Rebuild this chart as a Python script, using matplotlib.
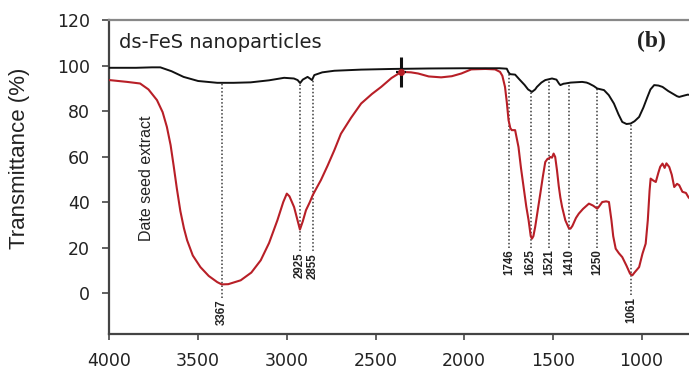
import matplotlib
matplotlib.use("Agg")
import matplotlib.pyplot as plt

# FTIR spectrum of ds-FeS nanoparticles (black)
fes_wn = [4000, 3850, 3760, 3713, 3650, 3582, 3500, 3392, 3300, 3204, 3100, 3015,
          2960, 2939, 2925, 2910, 2883, 2870, 2858, 2845, 2800, 2732, 2581, 2400,
          2200, 2000, 1800, 1760, 1750, 1741, 1713, 1690, 1660, 1640, 1618, 1600,
          1590, 1565, 1543, 1505, 1480, 1465, 1458, 1440, 1430, 1400, 1335, 1310,
          1297, 1270, 1250, 1212, 1185, 1156, 1130, 1109, 1085, 1062, 1040, 1014,
          990, 967, 950, 929, 905, 882, 850, 826, 800, 788, 760, 740, 718]
fes_t = [99.0, 99.0, 99.2, 99.2, 97.5, 95.0, 93.2, 92.4, 92.4, 92.6, 93.5, 94.6,
         94.3, 93.6, 92.3, 93.8, 95.0, 94.3, 93.6, 95.8, 97.0, 97.7, 98.2, 98.5,
         98.7, 98.8, 98.8, 98.6, 97.0, 96.2, 96.0, 94.0, 91.5, 89.5, 88.4, 89.5,
         90.6, 92.5, 93.6, 94.3, 93.8, 92.0, 91.4, 92.0, 92.1, 92.5, 92.8, 92.5,
         92.1, 91.0, 89.9, 89.2, 87.0, 83.3, 78.5, 75.2, 74.3, 74.5, 75.5, 77.4,
         81.5, 86.2, 89.5, 91.4, 91.2, 90.6, 88.8, 87.7, 86.5, 86.2, 86.8, 87.2, 87.0]

# FTIR spectrum of date seed extract (red)
ext_wn = [4000, 3900, 3827, 3780, 3732, 3700, 3676, 3655, 3638, 3620, 3600, 3580,
          3562, 3530, 3487, 3440, 3392, 3367, 3330, 3260, 3200, 3147, 3100, 3053,
          3020, 3000, 2985, 2959, 2940, 2926, 2910, 2892, 2870, 2854, 2830, 2808,
          2770, 2732, 2695, 2638, 2581, 2520, 2468, 2410, 2355, 2300, 2260, 2200,
          2130, 2070, 2016, 1960, 1880, 1826, 1798, 1785, 1770, 1760, 1750, 1740,
          1732, 1713, 1705, 1694, 1680, 1665, 1650, 1637, 1625, 1618, 1610, 1600,
          1585, 1571, 1557, 1543, 1530, 1521, 1515, 1505, 1496, 1487, 1477, 1467,
          1458, 1448, 1430, 1410, 1401, 1390, 1370, 1354, 1330, 1297, 1275, 1250,
          1240, 1222, 1200, 1184, 1170, 1160, 1146, 1128, 1109, 1085, 1065, 1052,
          1040, 1014, 995, 977, 965, 955, 949, 935, 920, 905, 895, 882, 870, 860,
          844, 830, 816, 800, 788, 770, 750, 735, 718]
ext_t = [93.6, 92.8, 92.1, 89.5, 84.8, 79.5, 73.0, 65.0, 56.0, 46.0, 36.0, 28.5,
         23.2, 16.5, 11.4, 7.5, 4.8, 3.8, 3.9, 5.6, 9.0, 14.4, 22.0, 32.0,
         40.0, 43.7, 42.5, 37.8, 32.0, 27.9, 31.5, 36.4, 40.0, 43.0, 46.5, 49.6,
         56.0, 62.8, 70.0, 77.0, 83.3, 87.5, 90.6, 94.5, 97.2, 97.0, 96.5, 95.2,
         94.8, 95.3, 96.5, 98.3, 98.5, 98.3, 97.2, 95.5, 90.6, 84.0, 76.0, 72.5,
         71.6, 71.6, 68.5, 64.2, 55.0, 46.6, 38.0, 32.0, 25.0, 23.9, 25.0, 29.0,
         36.5, 43.7, 51.0, 57.6, 59.0, 59.2, 59.8, 59.5, 61.3, 59.8, 54.0, 47.0,
         42.0, 37.8, 32.0, 28.5, 28.3, 29.5, 33.0, 34.9, 37.0, 39.3, 38.5, 37.1,
         38.0, 40.0, 40.3, 40.0, 32.0, 25.0, 19.5, 17.5, 15.8, 12.0, 8.5, 7.8,
         9.0, 11.4, 17.3, 21.7, 32.0, 45.0, 50.3, 49.5, 48.8, 53.0, 55.5, 56.9, 55.0, 57.0,
         55.4, 52.0, 46.6, 48.0, 47.4, 44.5, 44.0, 42.0, 40.8]

# peak markers
peak_labels = ["3367", "2925", "2855", "1746", "1625", "1521", "1410", "1250", "1061"]
peak_wn = [3367, 2925, 2855, 1746, 1625, 1521, 1410, 1250, 1061]
peak_top = [92.4, 92.3, 93.6, 96.2, 88.4, 93.5, 92.3, 89.9, 74.5]
peak_bottom = [-2.0, 18.5, 18.5, 20.0, 20.0, 20.0, 20.0, 20.0, -1.0]

cross_wn = [2355]
cross_t = [97.2]

fig = plt.figure(figsize=(6.89, 3.70), dpi=100)
ax = fig.add_axes([0.1588, 0.0973, 0.845, 0.8486])

for wn, top, bot, lab in zip(peak_wn, peak_top, peak_bottom, peak_labels):
    ax.plot([wn, wn], [bot, top], color="#3a3a3a", lw=1.1, linestyle=(0, (1, 1.4)), zorder=1)
    ax.text(wn, bot - 0.8, lab, rotation=90, ha="center", va="top", fontsize=8.3,
            fontweight="bold", family="Liberation Sans", color="#222222")

ax.plot(ext_wn, ext_t, color="#b81f27", lw=1.5, zorder=3)
ax.plot(fes_wn, fes_t, color="#111111", lw=1.4, zorder=4)

ax.plot(cross_wn, cross_t, "o", color="#b81f27", ms=4, zorder=7)
ax.plot(cross_wn, cross_t, "|", color="#111111", ms=21, mew=2.2, zorder=6)
ax.plot(cross_wn, cross_t, "_", color="#111111", ms=7, mew=1.6, zorder=6)

ax.text(3945, 110, "ds-FeS nanoparticles", fontsize=14, family="DejaVu Sans",
        ha="left", va="center", color="#222222")
ax.text(3790, 23, "Date seed extract", rotation=90, fontsize=11.5,
        family="Liberation Sans", ha="center", va="bottom", color="#222222")
ax.text(945, 110.5, "(b)", fontsize=17, family="Liberation Serif", fontweight="bold",
        ha="center", va="center", color="#222222")

ax.set_xlim(4000, 718)
ax.set_ylim(-18, 120)
ax.set_xticks([4000, 3500, 3000, 2500, 2000, 1500, 1000])
ax.set_yticks([0, 20, 40, 60, 80, 100, 120])

ax.set_ylabel("Transmittance (%)", fontsize=16, family="Liberation Sans", color="#222222")
ax.yaxis.set_label_coords(-0.137, 0.56)

for lab in ax.get_xticklabels() + ax.get_yticklabels():
    lab.set_family("DejaVu Sans")
    lab.set_fontsize(12.5)
    lab.set_color("#222222")

ax.tick_params(axis="y", direction="out", length=5, width=1.3, color="#555555", pad=9)
ax.tick_params(axis="x", direction="out", length=4, width=1.3, color="#555555", pad=9)

ax.spines["right"].set_visible(False)
ax.spines["left"].set_color("#444444")
ax.spines["left"].set_linewidth(1.6)
ax.spines["bottom"].set_color("#444444")
ax.spines["bottom"].set_linewidth(1.6)
ax.spines["top"].set_color("#888888")
ax.spines["top"].set_linewidth(1.6)

fig.savefig("out.png", dpi=100)
